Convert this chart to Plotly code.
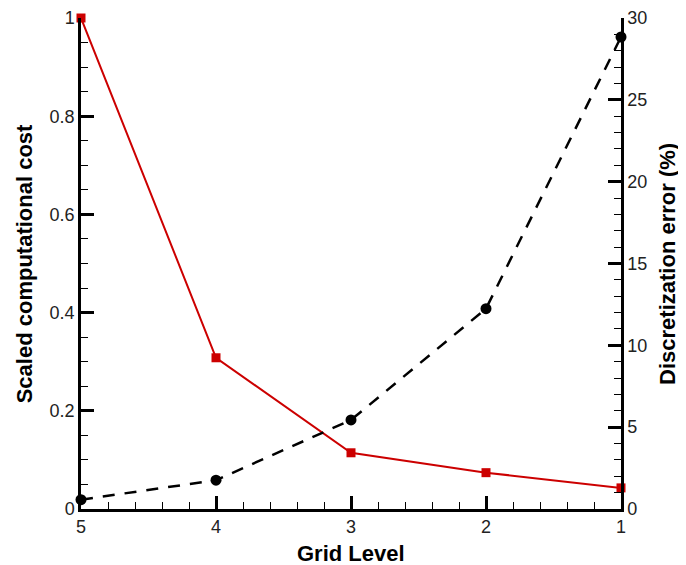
import plotly.graph_objects as go

# grid levels (coarse -> fine is 5 -> 1)
grid_level = [5, 4, 3, 2, 1]
scaled_cost = [1.0, 0.308, 0.1145, 0.074, 0.043]
disc_error = [0.57, 1.76, 5.44, 12.24, 28.84]

font_family = "Liberation Sans, Arial, sans-serif"
tick_font = dict(family=font_family, size=18, color="#222222")
title_font = dict(family=font_family, size=22, color="black")

fig = go.Figure()

fig.add_trace(go.Scatter(
    x=grid_level, y=disc_error, yaxis="y2",
    mode="lines+markers",
    line=dict(color="black", width=2.5, dash="12px,10px"),
    marker=dict(symbol="circle", size=11, color="black"),
    cliponaxis=False, name="Discretization error",
))

fig.add_trace(go.Scatter(
    x=grid_level, y=scaled_cost,
    mode="lines+markers",
    line=dict(color="#cc0000", width=2),
    marker=dict(symbol="square", size=9, color="#cc0000"),
    cliponaxis=False, name="Scaled computational cost",
))

axis_common = dict(
    showline=True, linecolor="black", linewidth=2.5,
    ticks="inside", ticklen=13, tickwidth=3, tickcolor="black",
    showgrid=False, zeroline=False, tickfont=tick_font,
    automargin=False, ticklabeloverflow="allow",
)

# the html body adds an 8px margin, so the figure is a bit smaller than the window
fig.update_layout(
    width=678, height=557,
    margin=dict(l=73, r=65, t=10, b=56),
    paper_bgcolor="white", plot_bgcolor="white",
    showlegend=False,
    xaxis=dict(
        range=[5, 1], dtick=1, tick0=1,
        minor=dict(dtick=0.2, ticks="inside", ticklen=7, tickwidth=1, tickcolor="black"),
        **axis_common,
    ),
    yaxis=dict(
        range=[0, 1], dtick=0.2, tickformat="~g",
        minor=dict(dtick=0.05, ticks="inside", ticklen=7, tickwidth=1, tickcolor="black"),
        **axis_common,
    ),
    yaxis2=dict(
        range=[0, 30], dtick=5, overlaying="y", side="right",
        minor=dict(dtick=1, ticks="inside", ticklen=7, tickwidth=1, tickcolor="black"),
        **axis_common,
    ),
)

# axis titles placed as annotations so they sit where the reference has them
fig.add_annotation(text="<b>Grid Level</b>", xref="paper", yref="paper",
                   x=0.5, y=-0.091, xanchor="center", yanchor="middle",
                   showarrow=False, font=title_font)
fig.add_annotation(text="<b>Scaled computational cost</b>", xref="paper", yref="paper",
                   x=-0.104, y=0.5, xanchor="center", yanchor="middle",
                   textangle=-90, showarrow=False, font=title_font)
fig.add_annotation(text="<b>Discretization error (%)</b>", xref="paper", yref="paper",
                   x=1.086, y=0.5, xanchor="center", yanchor="middle",
                   textangle=-90, showarrow=False, font=title_font)

fig.write_html("out.html")
